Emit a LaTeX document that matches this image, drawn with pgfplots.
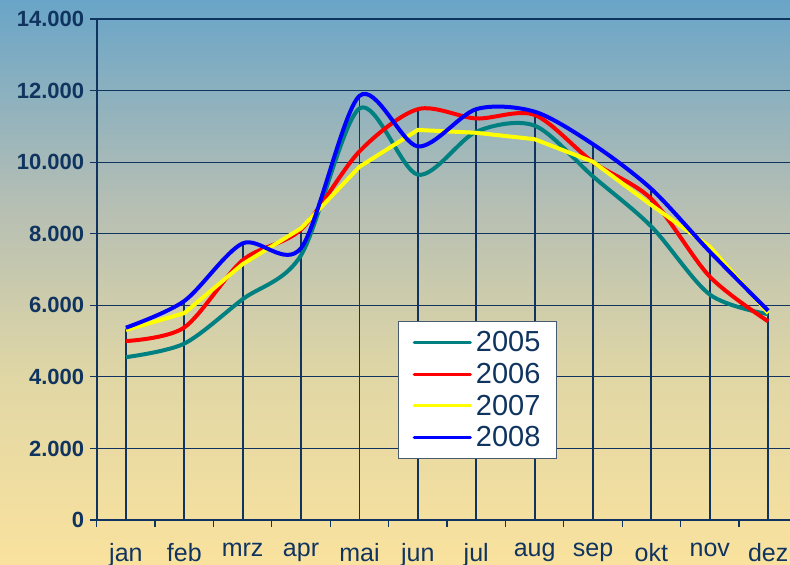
\documentclass[border=0pt]{standalone}
\usepackage{fontspec}
\setmainfont{Liberation Sans}
\usepackage{pgfplots}
\pgfplotsset{compat=1.18}
\definecolor{navy}{RGB}{16,52,96}
\definecolor{c05}{RGB}{0,128,128}
\definecolor{c06}{RGB}{255,0,0}
\definecolor{c07}{RGB}{255,255,0}
\definecolor{c08}{RGB}{0,0,255}
\definecolor{bgA}{RGB}{105,165,200}
\definecolor{bgB}{RGB}{180,190,180}
\definecolor{bgC}{RGB}{225,215,165}
\definecolor{bgD}{RGB}{250,226,158}
\begin{document}
\begin{tikzpicture}[x=1pt,y=1pt]
\shade[top color=bgA,bottom color=bgB] (0,365) rectangle (790,565);
\shade[top color=bgB,bottom color=bgC] (0,185) rectangle (790,365.5);
\shade[top color=bgC,bottom color=bgD] (0,0) rectangle (790,185.5);
\begin{axis}[
  at={(96.7pt,45pt)}, anchor=south west,
  scale only axis, width=693.3pt, height=501pt,
  xmin=-0.5, xmax=11.374, ymin=0, ymax=14000,
  scaled y ticks=false,
  axis x line*=bottom, axis y line*=left,
  axis line style={-, draw=navy, line width=1.6pt},
  ytick={0,2000,4000,6000,8000,10000,12000,14000},
  yticklabels={0,2.000,4.000,6.000,8.000,10.000,12.000,14.000},
  yticklabel style={font=\bfseries\fontsize{22}{22}\selectfont, text=navy, xshift=-2pt},
  ymajorgrids, grid style={draw=navy, line width=1.2pt},
  xtick={0,...,11},
  xticklabels={jan,feb,mrz,apr,mai,jun,jul,aug,sep,okt,nov,dez},
  xticklabel style={font=\fontsize{25}{25}\selectfont, text=navy, yshift=-13pt},
  major x tick style={draw=none},
  minor xtick={-0.5,0.5,1.5,2.5,3.5,4.5,5.5,6.5,7.5,8.5,9.5,10.5},
  tick align=outside, major tick length=7pt, minor tick length=7pt,
  every tick/.style={draw=navy, line width=1.2pt},
  clip=false,
  legend style={at={(0.435,0.397)}, anchor=north west, draw=navy!50!gray, line width=0.8pt,
    fill=white, font=\fontsize{29}{29}\selectfont, text=navy,
    inner xsep=14pt, inner ysep=8pt, row sep=6pt, column sep=2pt,
    nodes={inner sep=2pt}},
  legend cell align=left,
  legend image code/.code={\draw[#1, line width=3.2pt, line cap=round] (0pt,0pt) -- (56pt,0pt);},
]
\addplot[ycomb, draw=navy, line width=1.8pt, no marks, forget plot] coordinates {
(0,5373) (1,6120) (2,7730) (3,8150) (4,11850) (5,11480) (6,11480) (7,11410) (8,10500) (9,9250) (10,7640) (11,5850)};
\addplot[c05, line width=4pt, smooth, tension=0.5, no marks] coordinates {
(0,4550) (1,4930) (2,6170) (3,7400) (4,11500) (5,9650) (6,10850) (7,11020) (8,9600) (9,8200) (10,6300) (11,5750)};
\addlegendentry{2005}
\addplot[c06, line width=4pt, smooth, tension=0.5, no marks] coordinates {
(0,5000) (1,5380) (2,7260) (3,8120) (4,10300) (5,11480) (6,11220) (7,11320) (8,10000) (9,8970) (10,6800) (11,5550)};
\addlegendentry{2006}
\addplot[c07, line width=4pt, no marks] coordinates {
(0,5310) (1,5780) (2,7150) (3,8150) (4,9870) (5,10900) (6,10820) (7,10640) (8,10010) (9,8800) (10,7640) (11,5780)};
\addlegendentry{2007}
\addplot[c08, line width=4pt, smooth, tension=0.5, no marks] coordinates {
(0,5373) (1,6120) (2,7730) (3,7600) (4,11850) (5,10440) (6,11480) (7,11410) (8,10500) (9,9250) (10,7500) (11,5850)};
\addlegendentry{2008}
\end{axis}
\pgfresetboundingbox
\useasboundingbox (0,0) rectangle (790,565);
\end{tikzpicture}
\end{document}
